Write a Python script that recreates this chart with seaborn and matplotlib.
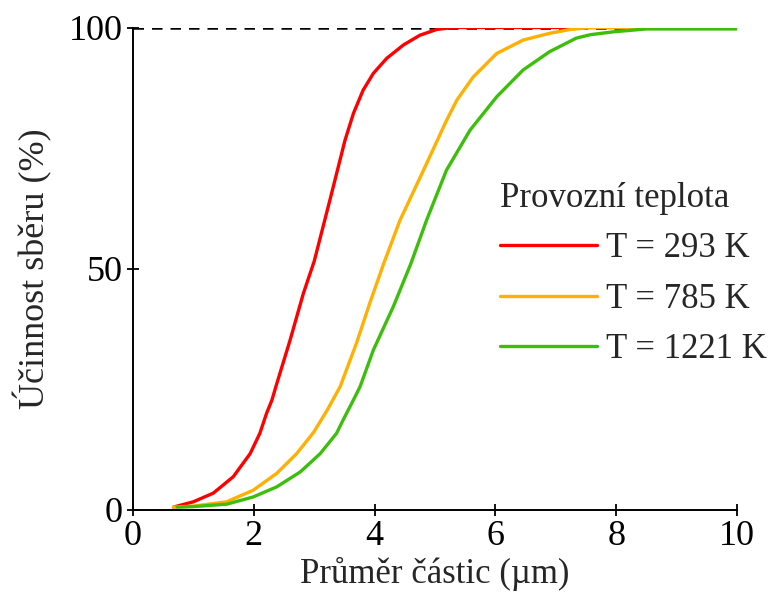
import numpy as np
import pandas as pd
import matplotlib
matplotlib.use("Agg")
import matplotlib.pyplot as plt
import seaborn as sns

# ---- data ----
series_names = ["T = 293 K", "T = 785 K", "T = 1221 K"]

x_293 = [0.67, 1.00, 1.33, 1.66, 1.94, 2.10, 2.21, 2.30, 2.38, 2.60, 2.82, 3.00,
         3.26, 3.51, 3.65, 3.81, 3.98, 4.20, 4.48, 4.75, 5.03, 5.30, 10.0]
y_293 = [0.5, 1.6, 3.4, 6.8, 11.6, 15.8, 19.9, 22.7, 26.1, 35.1, 44.8, 51.5,
         64.2, 76.6, 82.2, 87.0, 90.5, 93.6, 96.4, 98.4, 99.6, 100.0, 100.0]

x_785 = [0.67, 1.00, 1.55, 1.99, 2.38, 2.71, 2.99, 3.21, 3.43, 3.70, 3.92, 4.15,
         4.42, 4.81, 5.19, 5.36, 5.63, 6.02, 6.46, 6.90, 7.24, 7.60, 10.0]
y_785 = [0.5, 0.7, 1.6, 4.0, 7.5, 11.6, 16.0, 20.5, 25.5, 34.5, 42.8, 51.0,
         60.0, 70.4, 80.7, 84.9, 89.7, 94.6, 97.4, 98.8, 99.6, 100.0, 100.0]

x_1221 = [0.73, 1.00, 1.55, 1.99, 2.38, 2.77, 3.10, 3.37, 3.48, 3.62, 3.76, 3.98,
          4.31, 4.60, 4.86, 5.19, 5.58, 6.02, 6.46, 6.90, 7.34, 7.57, 7.95, 8.50, 10.0]
y_1221 = [0.5, 0.6, 1.1, 2.6, 4.7, 7.8, 11.6, 15.8, 18.6, 22.0, 25.5, 33.1,
          42.1, 51.0, 60.0, 70.4, 78.7, 85.6, 91.2, 95.0, 97.8, 98.5, 99.1, 99.7, 99.7]

colors = ["#ff0000", "#ffb000", "#3cbf0a"]

x_ticks = [0, 2, 4, 6, 8, 10]
y_ticks = [0, 50, 100]

x_label = "Průměr částic (µm)"
y_label = "Účinnost sběru (%)"
legend_title = "Provozní teplota"

# ---- build long table ----
frames = []
for name, xs, ys in zip(series_names, [x_293, x_785, x_1221], [y_293, y_785, y_1221]):
    frames.append(pd.DataFrame({"x": xs, "y": ys, "series": name}))
df = pd.concat(frames, ignore_index=True)

sns.set_style("ticks")
plt.rcParams["font.family"] = ["Liberation Serif", "DejaVu Serif"]

FS = 26

fig = plt.figure(figsize=(7.71, 5.95), dpi=100)
ax = fig.add_axes([133 / 771, 1 - 509.5 / 595, (737 - 133) / 771, (509.5 - 27.5) / 595])

ax.axhline(100, color="black", linestyle=(0, (4.2, 3.2)), linewidth=1.8, zorder=1)

sns.lineplot(data=df, x="x", y="y", hue="series", hue_order=series_names,
             palette=colors, sort=False, estimator=None, linewidth=2.4, ax=ax, zorder=3)
for line in ax.get_lines()[1:]:
    line.set_solid_joinstyle("round")
    line.set_solid_capstyle("round")

ax.set_xlim(0, 10)
ax.set_ylim(0, 100)
ax.set_xticks(x_ticks)
ax.set_yticks(y_ticks)
ax.tick_params(axis="both", direction="inout", length=9, width=1.3,
               labelsize=FS, colors="black", pad=3)
for s in ["top", "right"]:
    ax.spines[s].set_visible(False)
for s in ["left", "bottom"]:
    ax.spines[s].set_linewidth(1.4)
    ax.spines[s].set_color("black")

ax.set_xlabel(x_label, fontsize=25, labelpad=3)
ax.set_ylabel(y_label, fontsize=FS, labelpad=12)

leg = ax.legend(title=legend_title, frameon=False, fontsize=25, title_fontsize=25,
                loc="upper left", bbox_to_anchor=(500 / 771, 1 - 182 / 595),
                bbox_transform=fig.transFigure, borderaxespad=0,
                handlelength=2.8, handletextpad=0.25,
                labelspacing=0.5, borderpad=0, alignment="left")
for line in leg.get_lines():
    line.set_linewidth(2.4)

fig.savefig("out.png", dpi=100)
